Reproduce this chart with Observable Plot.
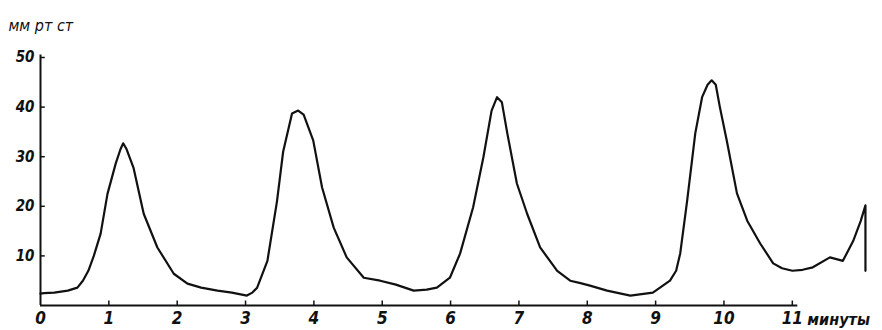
<!DOCTYPE html>
<html>
<head>
<meta charset="utf-8">
<script src="https://cdn.jsdelivr.net/npm/d3@7"></script>
<script src="https://cdn.jsdelivr.net/npm/@observablehq/plot@0.6"></script>
<style>
  html, body { margin: 0; padding: 0; background: #fff; }
  #chart svg { display: block; }
</style>
</head>
<body>
<div id="chart"></div>
<script>
// time in minutes
const minutes = [0, 0.05, 0.2, 0.4, 0.54, 0.62, 0.7, 0.78, 0.88, 0.98, 1.1, 1.17, 1.21, 1.26, 1.36, 1.51, 1.71, 1.95, 2.15, 2.35, 2.59, 2.8, 3.02, 3.1, 3.17, 3.32, 3.46, 3.55, 3.68, 3.77, 3.85, 3.99, 4.12, 4.29, 4.48, 4.73, 4.97, 5.2, 5.46, 5.65, 5.8, 5.99, 6.14, 6.33, 6.48, 6.6, 6.68, 6.75, 6.83, 6.97, 7.12, 7.31, 7.56, 7.75, 7.9, 8.04, 8.29, 8.63, 8.96, 9.21, 9.3, 9.36, 9.46, 9.58, 9.68, 9.76, 9.82, 9.88, 9.94, 10.04, 10.19, 10.34, 10.53, 10.72, 10.85, 11.0, 11.15, 11.3, 11.55, 11.74, 11.89, 12.0, 12.07, 12.07];
// pressure, mm Hg
const pressure = [2.4, 2.5, 2.6, 3, 3.6, 5, 7, 10, 14.5, 22.5, 28.6, 31.5, 32.7, 31.5, 27.8, 18.5, 11.7, 6.4, 4.4, 3.6, 3, 2.6, 2, 2.6, 3.6, 9, 21, 31, 38.7, 39.3, 38.5, 33.3, 23.8, 15.7, 9.7, 5.6, 5, 4.2, 3, 3.2, 3.6, 5.6, 10.5, 19.8, 29.9, 39.3, 42, 41, 34.7, 24.6, 18.5, 11.7, 7, 5, 4.5, 4, 3, 2, 2.6, 5, 7, 10.5, 21, 34.7, 42, 44.5, 45.4, 44.5, 40, 33.3, 22.6, 17.1, 12.5, 8.5, 7.5, 7, 7.2, 7.7, 9.7, 9, 13, 17, 20.2, 7];
const xTicks = [0, 1, 2, 3, 4, 5, 6, 7, 8, 9, 10, 11];
const yTicks = [10, 20, 30, 40, 50];
const yLabel = "мм рт ст";
const xLabel = "минуты";

const data = minutes.map((t, i) => ({t, p: pressure[i]}));
const font = "'Liberation Sans Narrow', 'DejaVu Sans Condensed', 'Liberation Sans', sans-serif";

const chart = Plot.plot({
  width: 882,
  height: 330,
  marginLeft: 40,
  marginRight: 15,
  marginTop: 57,
  marginBottom: 25,
  style: {fontFamily: font, background: "#fff", color: "#111"},
  x: {domain: [0, 12.1], label: null},
  y: {domain: [0, 50], label: null},
  marks: [
    Plot.axisX({ticks: xTicks, tickSize: 0, tickPadding: 6, fontSize: 17, fontStyle: "italic", fontWeight: "bold", tickFormat: d => String(d), fill: "#111", label: null}),
    Plot.axisY({ticks: yTicks, tickSize: 0, tickPadding: 6, fontSize: 15, fontStyle: "italic", fontWeight: "bold", tickFormat: d => String(d), fill: "#111", label: null}),
    Plot.ruleY([0], {x1: 0, x2: 11.08, stroke: "#111", strokeWidth: 2}),
    Plot.ruleX([0], {y1: 0, y2: 50.5, stroke: "#111", strokeWidth: 2}),
    Plot.ruleX(xTicks.slice(1), {x: d => d, y1: 0, y2: 0.9, stroke: "#111", strokeWidth: 1.5}),
    Plot.ruleY(yTicks, {y: d => d, x1: 0, x2: 0.07, stroke: "#111", strokeWidth: 1.5}),
    Plot.line(data, {x: "t", y: "p", stroke: "#111", strokeWidth: 2.2, strokeLinejoin: "round"}),
    Plot.text([yLabel], {frameAnchor: "top-left", dx: -32, dy: -32, text: d => d, textAnchor: "start", lineAnchor: "middle", fontSize: 16, fontStyle: "italic", fill: "#111", style: "letter-spacing:1px"}),
    Plot.text([xLabel], {x: 11.22, y: 0, dy: 14, text: d => d, textAnchor: "start", lineAnchor: "middle", fontSize: 16, fontStyle: "italic", fontWeight: "bold", fill: "#111"})
  ]
});
document.getElementById("chart").appendChild(chart);
</script>
</body>
</html>
